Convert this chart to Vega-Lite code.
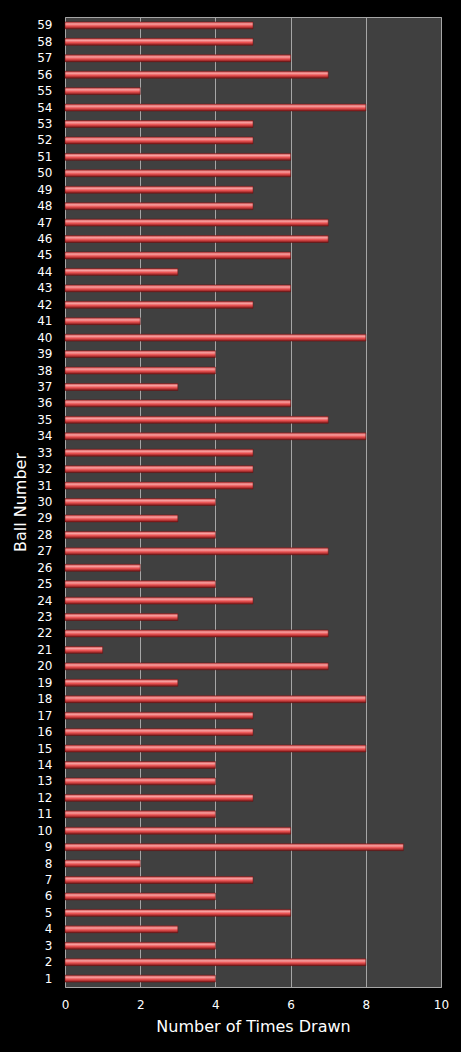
{
  "$schema": "https://vega.github.io/schema/vega-lite/v6.json",
  "autosize": "none",
  "width": 376,
  "height": 970,
  "padding": {"left": 65, "top": 17, "right": 20, "bottom": 65},
  "background": "#000000",
  "config": {
    "view": {"fill": "#404040", "stroke": "#a6a6a6", "strokeWidth": 1},
    "font": "DejaVu Sans"
  },
  "data": {
    "values": [
      {"ball": 1, "count": 4}, {"ball": 2, "count": 8}, {"ball": 3, "count": 4},
      {"ball": 4, "count": 3}, {"ball": 5, "count": 6}, {"ball": 6, "count": 4},
      {"ball": 7, "count": 5}, {"ball": 8, "count": 2}, {"ball": 9, "count": 9},
      {"ball": 10, "count": 6}, {"ball": 11, "count": 4}, {"ball": 12, "count": 5},
      {"ball": 13, "count": 4}, {"ball": 14, "count": 4}, {"ball": 15, "count": 8},
      {"ball": 16, "count": 5}, {"ball": 17, "count": 5}, {"ball": 18, "count": 8},
      {"ball": 19, "count": 3}, {"ball": 20, "count": 7}, {"ball": 21, "count": 1},
      {"ball": 22, "count": 7}, {"ball": 23, "count": 3}, {"ball": 24, "count": 5},
      {"ball": 25, "count": 4}, {"ball": 26, "count": 2}, {"ball": 27, "count": 7},
      {"ball": 28, "count": 4}, {"ball": 29, "count": 3}, {"ball": 30, "count": 4},
      {"ball": 31, "count": 5}, {"ball": 32, "count": 5}, {"ball": 33, "count": 5},
      {"ball": 34, "count": 8}, {"ball": 35, "count": 7}, {"ball": 36, "count": 6},
      {"ball": 37, "count": 3}, {"ball": 38, "count": 4}, {"ball": 39, "count": 4},
      {"ball": 40, "count": 8}, {"ball": 41, "count": 2}, {"ball": 42, "count": 5},
      {"ball": 43, "count": 6}, {"ball": 44, "count": 3}, {"ball": 45, "count": 6},
      {"ball": 46, "count": 7}, {"ball": 47, "count": 7}, {"ball": 48, "count": 5},
      {"ball": 49, "count": 5}, {"ball": 50, "count": 6}, {"ball": 51, "count": 6},
      {"ball": 52, "count": 5}, {"ball": 53, "count": 5}, {"ball": 54, "count": 8},
      {"ball": 55, "count": 2}, {"ball": 56, "count": 7}, {"ball": 57, "count": 6},
      {"ball": 58, "count": 5}, {"ball": 59, "count": 5}
    ]
  },
  "mark": {
    "type": "bar",
    "color": {
      "gradient": "linear",
      "x1": 0, "y1": 0, "x2": 0, "y2": 1,
      "stops": [
        {"offset": 0, "color": "#c84848"},
        {"offset": 0.3, "color": "#f8a0a0"},
        {"offset": 0.6, "color": "#e85050"},
        {"offset": 1, "color": "#7a1616"}
      ]
    },
    "stroke": "#6a1010",
    "strokeWidth": 0.5
  },
  "encoding": {
    "y": {
      "field": "ball",
      "type": "ordinal",
      "sort": "descending",
      "scale": {"paddingInner": 0.58, "paddingOuter": 0.3},
      "axis": {
        "title": "Ball Number",
        "titleColor": "#ffffff",
        "titleFontSize": 16,
        "titleFontWeight": "normal",
        "titlePadding": 8,
        "labelColor": "#ffffff",
        "labelFontSize": 12,
        "labelPadding": 13,
        "ticks": false,
        "domain": false
      }
    },
    "x": {
      "field": "count",
      "type": "quantitative",
      "scale": {"domain": [0, 10]},
      "axis": {
        "values": [0, 2, 4, 6, 8, 10],
        "title": "Number of Times Drawn",
        "titleColor": "#ffffff",
        "titleFontSize": 16,
        "titleFontWeight": "normal",
        "titlePadding": 8,
        "labelColor": "#ffffff",
        "labelFontSize": 12,
        "labelPadding": 12,
        "labelFlush": false,
        "ticks": false,
        "domain": false,
        "grid": true,
        "gridColor": "#a6a6a6",
        "gridWidth": 1
      }
    }
  }
}
